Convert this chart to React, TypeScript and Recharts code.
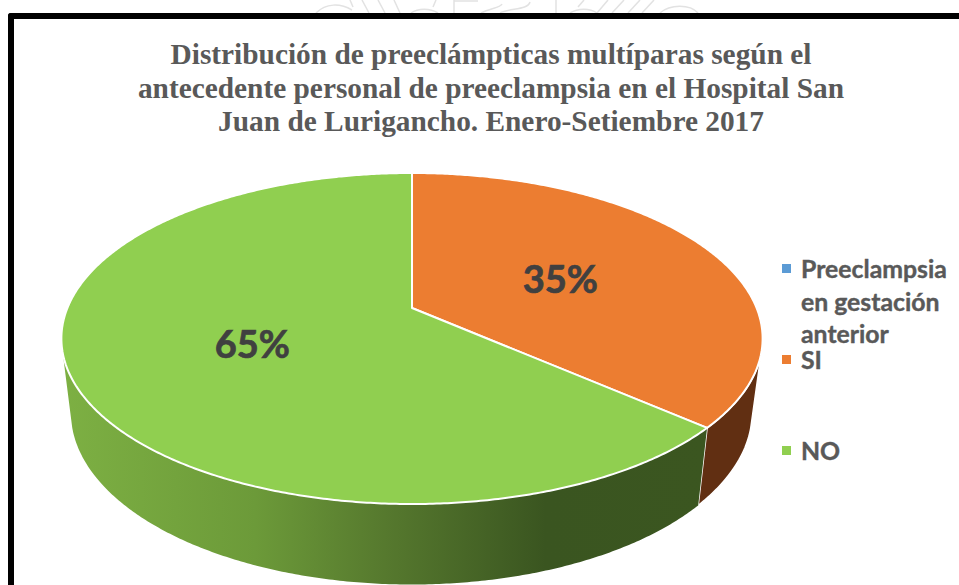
import { PieChart, Pie, Legend } from 'recharts';

// ─── Data ────────────────────────────────────────────────────────────────────

const categories = ['Preeclampsia en gestación anterior', 'SI', 'NO'];
const values = [0, 35, 65];
const colors = ['#5B9BD5', '#EC7D31', '#90CF50'];
const titleLines = [
  'Distribución de preeclámpticas multíparas según el',
  'antecedente personal de preeclampsia en el Hospital San',
  'Juan de Lurigancho. Enero-Setiembre 2017',
];
const legendLines = [['Preeclampsia', 'en gestación', 'anterior'], ['SI'], ['NO']];

const data = categories.map((name, i) => ({ name, value: values[i], fill: colors[i] }));

// ─── 3D view of the pie ──────────────────────────────────────────────────────

const RAD = Math.PI / 180;
const TILT = 0.464; // vertical squash of the disc
const PERSPECTIVE = 0.1843; // far side of the disc shrinks
const SEAM_IN = 126; // 35 % of the circle
const SEAM_OUT = 131.2; // where the seam lands in the tilted view
const WALL_FROM = 105.5; // front part of the disc shows its side wall
const WALL_TO = 254.5;

// clockwise degrees from 12 o'clock, corrected for the tilted view
const viewAngle = (t: number) =>
  t <= SEAM_IN ? (t * SEAM_OUT) / SEAM_IN : SEAM_OUT + ((t - SEAM_IN) * (360 - SEAM_OUT)) / (360 - SEAM_IN);

function topPoint(cx: number, cy: number, r: number, deg: number, scale = 1) {
  const u = Math.sin(deg * RAD) * scale;
  const v = Math.cos(deg * RAD) * scale;
  const w = 1 + PERSPECTIVE * v;
  return { x: cx + (r * u) / w, y: cy - (r * TILT * v) / w };
}

// the lower rim is the upper rim moved down and slightly reshaped
function bottomPoint(cx: number, cy: number, r: number, deg: number) {
  const p = topPoint(cx, cy, r, deg);
  return { x: cx - 0.5 + ((p.x - cx) * 340.5) / 350.5, y: cy + 104.5 + ((p.y - cy - 30.5) * 172) / 165.5 };
}

function sample(from: number, to: number) {
  const steps = Math.max(1, Math.ceil(Math.abs(to - from) * 2));
  return Array.from({ length: steps + 1 }, (_, i) => from + ((to - from) * i) / steps);
}

const toPath = (pts: { x: number; y: number }[]) =>
  pts.map((p, i) => `${i ? 'L' : 'M'}${p.x.toFixed(2)} ${p.y.toFixed(2)}`).join(' ') + ' Z';

function Slice3D(props: any) {
  const { cx, cy, outerRadius, startAngle, endAngle, fill, index } = props;
  if (startAngle === endAngle) return null;
  const from = viewAngle(90 - startAngle);
  const to = viewAngle(90 - endAngle);
  const wallAngles = sample(Math.max(from, WALL_FROM), Math.min(to, WALL_TO));
  const wall = [
    ...wallAngles.map(a => topPoint(cx, cy, outerRadius, a)),
    ...[...wallAngles].reverse().map(a => bottomPoint(cx, cy, outerRadius, a)),
  ];
  const top = [{ x: cx, y: cy }, ...sample(from, to).map(a => topPoint(cx, cy, outerRadius, a))];
  return (
    <g>
      <path
        d={toPath(wall)}
        fill={index === 1 ? '#612F12' : 'url(#greenWall)'}
        stroke="#fff"
        strokeWidth={index === 2 ? 0 : 1.5}
      />
      <path d={toPath(top)} fill={fill} stroke="#fff" strokeWidth={2} strokeLinejoin="round" />
    </g>
  );
}

function SliceLabel(props: any) {
  const { cx, cy, outerRadius, midAngle, percent, value } = props;
  if (!value) return null;
  const p = topPoint(cx, cy, outerRadius, viewAngle(90 - midAngle), 0.49);
  return (
    <text
      x={p.x}
      y={p.y + 1.5}
      textAnchor="middle"
      dominantBaseline="central"
      fontFamily="Lato"
      fontWeight={700}
      fontSize={38}
      fill="#404040"
      stroke="#404040"
      strokeWidth={0.7}
    >
      {`${Math.round(percent * 100)}%`}
    </text>
  );
}

const LEGEND_TOPS = [0, 91, 182];

function ChartLegend({ payload }: any) {
  return (
    <div style={{ position: 'relative', width: 180, height: 230, fontFamily: 'Lato', fontWeight: 700, fontSize: 24.8, color: '#595959', WebkitTextStroke: '0.4px #595959' }}>
      {(payload || []).map((entry: any, i: number) => (
        <div key={entry.value} style={{ position: 'absolute', left: 0, top: LEGEND_TOPS[i] }}>
          <span style={{ position: 'absolute', left: 0, top: 9, width: 9, height: 9, background: entry.color }} />
          <div style={{ marginLeft: 19, marginTop: -2, lineHeight: '32.5px', whiteSpace: 'nowrap' }}>
            {legendLines[i].map(l => <div key={l}>{l}</div>)}
          </div>
        </div>
      ))}
    </div>
  );
}

function Watermark() {
  return (
    <svg width={959} height={14} style={{ position: 'absolute', left: 0, top: 0 }}>
      <g fill="none" stroke="#e2e2e2" strokeWidth={1.5}>
        <path d="M316 13 C326 3 340 3 352 10" />
        <path d="M353 7 L350 0 M369 13 L362 0 M385 13 L378 0 M400 13 L394 0" />
        <path d="M411 13 C418 8 430 8 438 13 M433 7 L436 0" />
        <path d="M454 13 L454 0 M454 1 L478 1" />
        <path d="M481 13 C490 8 500 8 502 4 M500 13 C510 8 528 10 530 2" />
        <path d="M556 13 L556 0 M570 13 C578 8 590 8 597 13" />
        <path d="M578 7 L584 0 M597 13 L608 0 M612 13 L624 0 M628 13 L640 0 M642 13 L654 0" />
        <path d="M660 13 C670 4 690 4 698 13" />
      </g>
    </svg>
  );
}

export default function App() {
  return (
    <div style={{ position: 'absolute', left: 0, top: 0, width: 959, height: 585, overflow: 'hidden', background: '#fff' }}>
      <Watermark />
      <div
        style={{
          position: 'absolute', left: 8, top: 13, width: 970, height: 600, boxSizing: 'border-box',
          borderLeft: '6px solid #000', borderTop: '6px solid #000', borderTopLeftRadius: 3,
        }}
      />
      <div style={{ position: 'absolute', left: 0, top: 0 }}>
        <PieChart width={959} height={585} margin={{ top: 0, right: 0, bottom: 0, left: 0 }}>
          <defs>
            <linearGradient id="greenWall" gradientUnits="userSpaceOnUse" x1={62} y1={0} x2={707} y2={0}>
              <stop offset="0" stopColor="#7DB043" />
              <stop offset="0.3" stopColor="#6C9A39" />
              <stop offset="0.5" stopColor="#56792E" />
              <stop offset="0.75" stopColor="#3A5520" />
              <stop offset="1" stopColor="#3B5620" />
            </linearGradient>
          </defs>
          <text textAnchor="middle" fontFamily="Liberation Serif" fontWeight={700} fontSize={29.35} fill="#595959">
            {titleLines.map((line, i) => (
              <tspan key={line} x={491} y={64 + i * 33.5}>{line}</tspan>
            ))}
          </text>
          <Pie
            data={data}
            dataKey="value"
            nameKey="name"
            cx={412}
            cy={308}
            innerRadius={0}
            outerRadius={344.6}
            startAngle={90}
            endAngle={-270}
            stroke="none"
            shape={Slice3D}
            label={SliceLabel}
            labelLine={false}
            isAnimationActive={false}
          />
          <Legend
            layout="vertical"
            align="right"
            verticalAlign="middle"
            itemSorter={null}
            content={ChartLegend}
            wrapperStyle={{ position: 'absolute', left: 782, top: 255, width: 180 }}
          />
        </PieChart>
      </div>
    </div>
  );
}
